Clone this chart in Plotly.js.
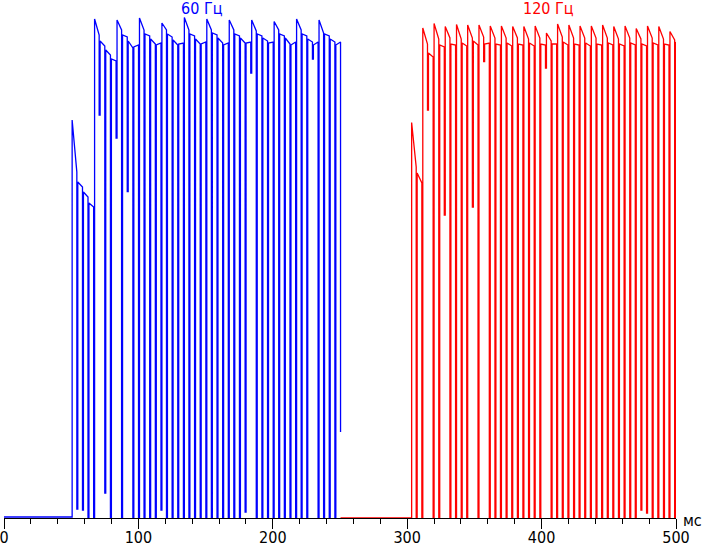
<!DOCTYPE html>
<html>
<head>
<meta charset="utf-8">
<script src="https://cdn.plot.ly/plotly-3.0.1.min.js"></script>
<style>html,body{margin:0;padding:0;background:#fff;}#chart{width:703px;height:546px;}</style>
</head>
<body>
<div id="chart"></div>
<script>
// ---- data (time in ms, brightness in % of peak) ----
const xTickVals = [0, 100, 200, 300, 400, 500];
const xTickText = ["0", "100", "200", "300", "400", "500"];
const unitLabel = "мс";
const blueLabel = "60 Гц";
const redLabel = "120 Гц";

// 60 Hz part: moments where the PWM dips begin
const blueDips = [50.0, 54.2, 58.4, 62.5,
  66.7, 70.8, 75.0, 79.2,
  83.4, 87.5, 91.7, 95.9,
  100.1, 104.2, 108.4, 112.6,
  116.8, 120.9, 125.1, 129.3,
  133.5, 137.6, 141.8, 146.0,
  150.2, 154.3, 158.5, 162.7,
  166.9, 171.0, 175.2, 179.4,
  183.6, 187.7, 191.9, 196.1,
  200.3, 204.4, 208.6, 212.8,
  217.0, 221.1, 225.3, 229.5,
  233.7, 237.8, 242.0, 246.2,
  250.4];
// lowest level reached in each dip
const blueDipMin = [0.2, 1.8, 1.6, 0,
  0, 80.6, 5.0, 0,
  76.0, 0, 65.3, 0,
  0, 0, 0, 0,
  1.6, 0, 0, 0,
  0, 0, 0, 0,
  0, 0, 0, 0,
  0, 0, 0, 1.2,
  89.0, 0, 0, 0,
  0, 0, 0, 0,
  0, 0, 0, 91.8,
  0, 0, 0, 0,
  17.2];
// level right after each dip and just before the next one
const blueHi = [79.6, 67.2, 65.2, 63.0,
  99.8, 95.4, 93.6, 91.8,
  99.6, 96.6, 95.4, 94.2,
  100.0, 96.8, 95.8, 94.6,
  99.0, 96.8, 95.6, 94.8,
  100.1, 96.8, 95.8, 94.8,
  99.8, 97.0, 96.0, 94.6,
  99.6, 96.8, 96.0, 95.0,
  99.6, 96.8, 96.0, 95.0,
  99.3, 96.8, 96.0, 94.6,
  99.8, 96.8, 95.8, 94.6,
  99.6, 96.8, 95.8, 94.6];
const blueLo = [69.2, 66.2, 64.2, 62.2,
  96.6, 94.4, 92.6, 91.4,
  97.6, 96.2, 94.0, 94.6,
  97.6, 96.4, 94.8, 95.0,
  97.6, 96.2, 94.6, 95.0,
  97.6, 96.4, 94.8, 95.2,
  97.6, 96.6, 95.0, 95.0,
  97.6, 96.4, 95.0, 95.2,
  97.4, 96.4, 95.4, 95.2,
  97.6, 96.4, 94.8, 95.2,
  97.6, 96.4, 95.2, 95.2,
  97.0, 96.4, 95.2, 95.2];

// 120 Hz part
const redDips = [302.6, 306.7,
  310.9, 315.1, 319.3, 323.5, 327.6, 331.8, 336.0, 340.2,
  344.3, 348.5, 352.7, 356.9, 361.1, 365.3, 369.4, 373.6,
  377.8, 382.0, 386.1, 390.3, 394.5, 398.7, 402.9, 407.1,
  411.2, 415.4, 419.6, 423.8, 427.9, 432.1, 436.3, 440.5,
  444.7, 448.9, 453.0, 457.2, 461.4, 465.6, 469.7, 473.9,
  478.1, 482.3, 486.5, 490.7, 494.8, 499.0];
const redDipMin = [0, 0,
  0, 81.6, 0, 0, 60.6, 0, 0, 0,
  0, 62.2, 0, 91.3, 0, 0, 0, 0,
  0, 0, 0, 0, 0, 0, 90.0, 0,
  0, 0, 0, 0, 0, 0, 0, 0,
  0, 0, 0, 0, 0, 0, 0, 1.6,
  1.0, 0, 0, 0, 0, 0];
const redHi = [79.1, 69.0,
  98.0, 93.0, 98.9, 94.6, 98.3, 94.8, 98.7, 95.0,
  98.6, 95.4, 98.6, 94.8, 98.4, 94.8, 98.4, 95.0,
  98.3, 94.8, 98.3, 95.0, 98.4, 94.8, 97.0, 94.8,
  98.8, 95.2, 98.6, 94.8, 98.4, 95.0, 98.4, 94.8,
  98.6, 95.0, 98.3, 94.8, 98.4, 95.0, 97.9, 94.8,
  98.4, 95.0, 98.3, 94.8, 97.3, 95.0];
const redLo = [70.2, 67.0,
  94.8, 92.2, 95.8, 94.2, 96.0, 94.6, 95.8, 94.4,
  96.0, 94.6, 96.2, 95.0, 96.0, 94.6, 96.0, 94.4,
  96.0, 94.6, 95.8, 94.4, 96.0, 94.6, 95.4, 94.8,
  96.2, 94.6, 96.0, 94.6, 96.0, 94.4, 96.0, 94.6,
  96.0, 94.6, 95.8, 94.4, 96.0, 94.6, 95.8, 94.4,
  96.0, 94.6, 95.8, 94.6, 95.6, 95.2];

// ---- build step paths ----
const DIP_WIDTH = 0.7; // ms between the fall and the rise of a dip
function buildPath(dips, mins, hi, lo, start, end, base) {
  const x = [start], y = [base];
  for (let i = 0; i < dips.length; i++) {
    const d = dips[i];
    const prev = i === 0 ? base : lo[i - 1];
    x.push(d, d); y.push(prev, mins[i]);
    if (i < hi.length) {
      x.push(d + DIP_WIDTH, d + DIP_WIDTH); y.push(mins[i], hi[i]);
      if (i === dips.length - 1) { x.push(end); y.push(lo[i]); }
    }
  }
  return {x, y};
}
const bluePath = buildPath(blueDips, blueDipMin, blueHi, blueLo, 0, 250.4, 0.2);
const redPath = buildPath(redDips, redDipMin, redHi, redLo, blueDips[blueDips.length - 1], 500, 0);

const font = '"Liberation Sans Narrow", "Arial Narrow", "DejaVu Sans Condensed", Arial, sans-serif';

const data = [
  {x: bluePath.x, y: bluePath.y, type: 'scatter', mode: 'lines',
   line: {color: '#0000ff', width: 1.3}, hoverinfo: 'skip', showlegend: false},
  {x: redPath.x, y: redPath.y, type: 'scatter', mode: 'lines',
   line: {color: '#ff0000', width: 1.3}, hoverinfo: 'skip', showlegend: false}
];

const layout = {
  width: 703, height: 546,
  margin: {l: 4, r: 27, t: 0, b: 28},
  paper_bgcolor: '#ffffff', plot_bgcolor: '#ffffff',
  showlegend: false,
  xaxis: {
    range: [0, 500], tickvals: xTickVals, ticktext: xTickText,
    ticks: 'outside', ticklen: 10, tickwidth: 1, tickcolor: '#000',
    ticklabelstandoff: -5, ticklabeloverflow: 'allow',
    showline: true, linecolor: '#000', linewidth: 1,
    showgrid: false, zeroline: false, layer: 'below traces',
    tickfont: {family: font, size: 16, color: '#000'},
    minor: {dtick: 20, tick0: 0, ticks: 'outside', ticklen: 5, tickcolor: '#000', tickwidth: 1, showgrid: false},
    fixedrange: true
  },
  yaxis: {
    range: [0, 103.6], visible: false, fixedrange: true
  },
  annotations: [
    {text: blueLabel, x: 147.2, xref: 'x', y: 1, yref: 'paper', yanchor: 'top', xanchor: 'center',
     showarrow: false, font: {family: font, size: 16, color: '#0000ff'}, yshift: 3},
    {text: redLabel, x: 405, xref: 'x', y: 1, yref: 'paper', yanchor: 'top', xanchor: 'center',
     showarrow: false, font: {family: font, size: 16, color: '#ff0000'}, yshift: 3},
    {text: unitLabel, x: 1.024, xref: 'paper', y: 0, yref: 'paper', yanchor: 'middle', xanchor: 'center',
     showarrow: false, font: {family: font, size: 16, color: '#000'}, yshift: -2}
  ]
};

Plotly.newPlot('chart', data, layout, {staticPlot: true, displayModeBar: false});
</script>
</body>
</html>
